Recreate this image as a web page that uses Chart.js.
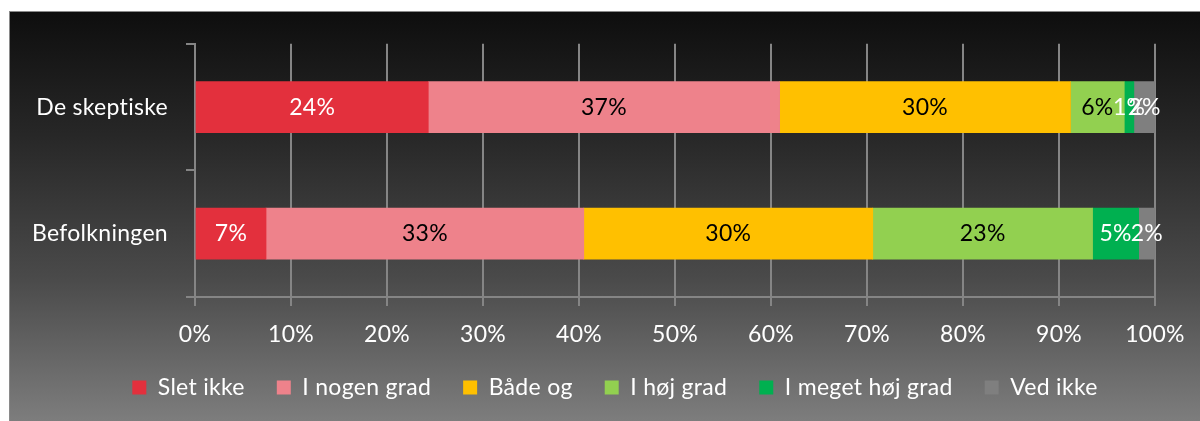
<!DOCTYPE html>
<html>
<head>
<meta charset="utf-8">
<script src="https://cdn.jsdelivr.net/npm/chart.js@4/dist/chart.umd.min.js"></script>
<style>
  html, body { margin: 0; padding: 0; background: #ffffff; width: 1200px; height: 421px; overflow: hidden; }
  #panel { position: absolute; left: 9px; top: 11px; width: 1191px; height: 410px; box-sizing: border-box;
    border-left: 1px solid #8a8a8a; border-top: 1px solid #8a8a8a;
    background: linear-gradient(to bottom, #0e0e0e 0%, #272727 30%, #4a4a4a 65%, #7d7d7d 100%); }
  #c { position: absolute; left: 10px; top: 12px; }
</style>
</head>
<body>
<div id="panel"></div>
<canvas id="c" width="1190" height="409"></canvas>
<script>
const categories = ['De skeptiske', 'Befolkningen'];
const seriesNames = ['Slet ikke', 'I nogen grad', 'Både og', 'I høj grad', 'I meget høj grad', 'Ved ikke'];
const sletIkke = [24.3, 7.4];
const iNogenGrad = [36.6, 33.1];
const baadeOg = [30.3, 30.1];
const iHoejGrad = [5.6, 22.9];
const iMegetHoejGrad = [1.0, 4.8];
const vedIkke = [2.2, 1.7];
const xTickValues = [0, 10, 20, 30, 40, 50, 60, 70, 80, 90, 100];

const seriesValues = [sletIkke, iNogenGrad, baadeOg, iHoejGrad, iMegetHoejGrad, vedIkke];
const seriesColors = ['#e3303d', '#ee828b', '#ffc000', '#92d050', '#00b050', '#7f7f7f'];
const labelColors = ['#ffffff', '#000000', '#000000', '#000000', '#ffffff', '#ffffff'];

const FONT = 'Lato';
const FS = 23;
const gridColor = '#858585';

const noLigatures = {
  id: 'noLigatures',
  beforeInit(chart) { try { chart.ctx.letterSpacing = '0.3px'; } catch (e) {} },
  beforeUpdate(chart) { try { chart.ctx.letterSpacing = '0.3px'; } catch (e) {} },
  beforeDraw(chart) { try { chart.ctx.letterSpacing = '0.3px'; } catch (e) {} }
};

const dataLabels = {
  id: 'dataLabels',
  afterDatasetsDraw(chart) {
    const ctx = chart.ctx;
    ctx.save();
    ctx.font = FS + 'px ' + FONT;
    ctx.textAlign = 'center';
    ctx.textBaseline = 'middle';
    chart.data.datasets.forEach((ds, i) => {
      const meta = chart.getDatasetMeta(i);
      meta.data.forEach((bar, j) => {
        const v = ds.data[j];
        ctx.fillStyle = labelColors[i];
        ctx.fillText(Math.round(v) + '%', (bar.x + bar.base) / 2, bar.y);
      });
    });
    ctx.restore();
  }
};

new Chart(document.getElementById('c'), {
  type: 'bar',
  data: {
    labels: categories,
    datasets: seriesNames.map((name, i) => ({
      label: name,
      data: seriesValues[i],
      backgroundColor: seriesColors[i],
      borderWidth: 0,
      barThickness: 51,
      yAxisID: 'y'
    }))
  },
  options: {
    indexAxis: 'y',
    responsive: false,
    animation: false,
    devicePixelRatio: 1,
    layout: { padding: { left: 20, right: 0, top: 29, bottom: 12 } },
    scales: {
      x: {
        stacked: true,
        min: 0, max: 100,
        afterBuildTicks(scale) { scale.ticks = xTickValues.map(v => ({ value: v })); },
        afterFit(scale) { scale.height = 47; },
        ticks: { color: '#ffffff', font: { family: FONT, size: FS }, padding: 15, callback: v => v + '%' },
        grid: { color: gridColor, lineWidth: 2, tickLength: 9, drawOnChartArea: true },
        border: { display: true, color: gridColor, width: 2 }
      },
      y: {
        stacked: true,
        position: 'left',
        afterFit(scale) { scale.width = 165; },
        ticks: { color: '#ffffff', font: { family: FONT, size: FS }, padding: 18 },
        grid: { color: gridColor, lineWidth: 2, tickLength: 9, drawOnChartArea: false },
        border: { display: true, color: gridColor, width: 2 }
      },
      yRight: {
        type: 'category',
        position: 'right',
        afterFit(scale) { scale.width = 45; },
        ticks: { display: false },
        grid: { display: false },
        border: { display: false }
      }
    },
    plugins: {
      legend: {
        position: 'bottom',
        labels: { color: '#ffffff', font: { family: FONT, size: FS }, boxWidth: 14, boxHeight: 14, padding: 32 }
      },
      tooltip: { enabled: false }
    }
  },
  plugins: [noLigatures, dataLabels]
});
</script>
</body>
</html>
